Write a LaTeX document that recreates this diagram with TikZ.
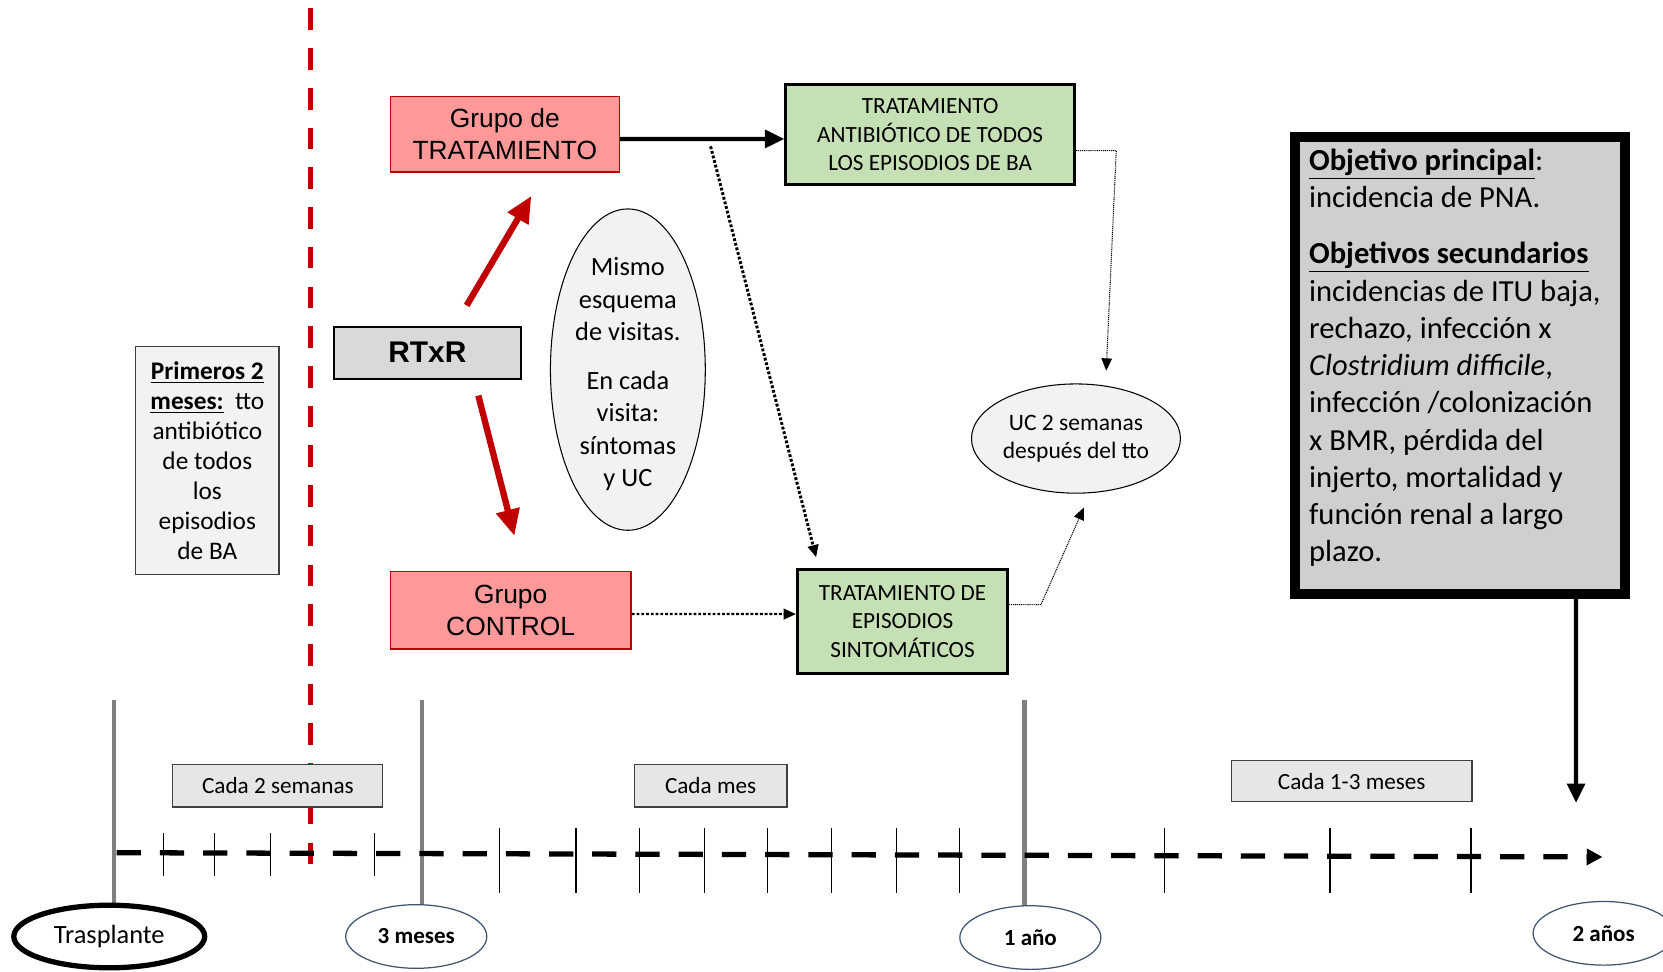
\documentclass[tikz,border=0pt]{standalone}
\usepackage{fontspec}
\setmainfont{Carlito}
\newfontfamily\arialf{Liberation Sans}
\usetikzlibrary{arrows.meta,shapes.geometric,calc,backgrounds}
\newlength\pxu
\setlength\pxu{0.021212cm}
\definecolor{dred}{HTML}{C00000}
\definecolor{pinkc}{HTML}{FF9999}
\definecolor{greenc}{HTML}{C5E0B4}
\definecolor{rtxrc}{HTML}{D9D9D9}
\definecolor{boxgray}{HTML}{E7E6E6}
\definecolor{lightg}{HTML}{F2F2F2}
\definecolor{objgray}{HTML}{D0CECE}
\definecolor{milegray}{HTML}{7F7F7F}
\definecolor{ellblue}{HTML}{41546F}
\definecolor{darkg}{HTML}{404040}
\tikzset{
  rectbox/.style={draw, rectangle, inner sep=0pt, align=center},
  grupo/.style={rectbox, fill=pinkc, draw=dred, line width=0.9pt, font=\arialf\fontsize{15}{18}\selectfont},
  greenbox/.style={rectbox, fill=greenc, draw=black, line width=1.8pt, font=\fontsize{13.2}{16.2}\selectfont},
  labelbox/.style={rectbox, fill=boxgray, draw=darkg, line width=0.7pt, font=\fontsize{13.2}{15}\selectfont},
  timeell/.style={ellipse, draw=ellblue, line width=0.7pt, fill=white, inner sep=0pt, font=\bfseries\fontsize{13.1}{15}\selectfont},
  softell/.style={ellipse, draw=black, line width=0.6pt, fill=lightg, inner sep=0pt},
  dotarrow/.style={dash pattern=on 1.6pt off 1.1pt, line width=1.7pt, -{Triangle[length=7pt,width=6pt]}},
  thindot/.style={dash pattern=on 0.6pt off 0.5pt, line width=0.6pt, -{Triangle[length=7pt,width=6pt]}},
  redarrow/.style={draw=dred, line width=3.6pt, -{Triangle[length=15pt,width=13pt]}},
  blackarrow/.style={draw=black, line width=2.4pt, -{Triangle[length=11pt,width=10pt]}},
  reddash/.style={draw=dred, line width=3pt, dash pattern=on 12.3pt off 10.3pt},
  timeline/.style={draw=black, line width=3pt, dash pattern=on 13.8pt off 10.8pt, -{Triangle[length=9pt,width=9pt]}},
  milestone/.style={draw=milegray, line width=2.4pt},
  tick/.style={draw=black, line width=0.7pt},
}
\newcommand\ulbold[1]{\underline{\textbf{#1}}}
\begin{document}
\begin{tikzpicture}[x=0.021212cm,y=-0.021212cm]
\useasboundingbox (0,0) rectangle (1568,916);

% red dashed separator
\coordinate (rtop) at (293,8);
\coordinate (rbot) at (293,818);
\draw[reddash] (rtop) -- (rbot);

% timeline ticks
\foreach \tx in {154,202,255,353} \draw[tick] (\tx,785) -- (\tx,826);
\foreach \tx in {471,543,603,664,724,784,845,905,1098,1254,1387} \draw[tick] (\tx,781) -- (\tx,842);

% timeline
\coordinate (tl0) at (110,804);
\coordinate (tl1) at (1511,808);
\draw[timeline] (tl0) -- (tl1);

% period labels
\node[labelbox, minimum width=198*\pxu, minimum height=40*\pxu] (cada2) at (262,741) {Cada 2 semanas};
\node[labelbox, minimum width=144*\pxu, minimum height=40*\pxu] (cadames) at (670,741) {Cada mes};
\node[labelbox, minimum width=227*\pxu, minimum height=39*\pxu] (cada13) at (1274.5,736.5) {Cada 1-3 meses};

% milestone ellipses
\node[timeell, draw=black, line width=3pt, font=\fontsize{15}{18}\selectfont, minimum width=180*\pxu, minimum height=59*\pxu] (trasp) at (103,883) {Trasplante};
\node[timeell, minimum width=133*\pxu, minimum height=60*\pxu] (m3) at (392.5,883) {3 meses};
\node[timeell, minimum width=133*\pxu, minimum height=60*\pxu] (m12) at (971.5,884) {1 año};
\node[timeell, minimum width=133*\pxu, minimum height=60*\pxu] (m24) at (1512,880) {2 años};

% milestone lines
\coordinate (g0) at (107.5,660);
\coordinate (g1) at (398,660);
\coordinate (g2) at (966,660);
\begin{pgfonlayer}{background}
\draw[milestone] (g0) -- (g0 |- trasp.center);
\draw[milestone] (g1) -- (g1 |- m3.center);
\draw[milestone] (g2) -- (g2 |- m12.center);
\end{pgfonlayer}

% left box
\node[rectbox, fill=lightg, draw=darkg, line width=0.7pt, minimum width=135*\pxu, minimum height=215*\pxu, font=\fontsize{14.4}{17.1}\selectfont] (prim) at (195.5,434.5)
{\ulbold{Primeros 2}\\\ulbold{meses:}\ \ tto\\antibiótico\\de todos\\los\\episodios\\de BA};

% randomisation
\node[rectbox, fill=rtxrc, draw=black, line width=1.2pt, minimum width=176*\pxu, minimum height=49*\pxu, font=\arialf\bfseries\fontsize{17}{20}\selectfont] (rtxr) at (403,332.5) {RTxR};

% groups
\node[grupo, minimum width=216*\pxu, minimum height=71*\pxu] (gtrat) at (476,126.5) {Grupo de\\TRATAMIENTO};
\node[grupo, minimum width=227*\pxu, minimum height=73*\pxu] (gctrl) at (481.5,575.5) {Grupo\\CONTROL};

% treatments
\node[greenbox, minimum width=272*\pxu, minimum height=94*\pxu] (gtop) at (877,127) {TRATAMIENTO\\ANTIBIÓTICO DE TODOS\\LOS EPISODIOS DE BA};
\node[greenbox, minimum width=198*\pxu, minimum height=98*\pxu] (gbot) at (851,586) {TRATAMIENTO DE\\EPISODIOS\\SINTOMÁTICOS};

% ellipses
\node[softell, minimum width=146*\pxu, minimum height=303*\pxu] (mismo) at (592,348.5) {};
\node[align=center, inner sep=0pt, font=\fontsize{15}{18.5}\selectfont] (mismotxt) at (592,353) {Mismo\\esquema\\de visitas.\\[9pt]En cada\\visita:\\síntomas\\y UC};
\node[softell, minimum width=197*\pxu, minimum height=103*\pxu, align=center, font=\fontsize{13.4}{16.2}\selectfont] (uc) at (1014.5,413.5) {UC 2 semanas\\después del tto};

% objectives box
\node[rectbox, fill=objgray, draw=black, line width=6pt, minimum width=311*\pxu, minimum height=431*\pxu] (obj) at (1376.5,344.5) {};
\node[anchor=north west, inner sep=0pt, align=left, font=\fontsize{17.4}{21.2}\selectfont] (objtxt) at (1234,140)
{\ulbold{Objetivo principal}:\\incidencia de PNA.\\[10.8pt]\ulbold{Objetivos secundarios}\\incidencias de ITU baja,\\rechazo, infección x\\\textit{Clostridium difficile},\\infección /colonización\\x BMR, pérdida del\\injerto, mortalidad y\\función renal a largo\\plazo.};
\coordinate (objend) at (1486,757);
\draw[blackarrow] ($(obj.south)+(109.5,0)$) -- (objend);

% connectors
\draw[redarrow] ($(rtxr.north)+(37,-19)$) -- ($(gtrat.south)+(25,22)$);
\draw[redarrow] ($(rtxr.south)+(48,15)$) -- ($(gctrl.north)+(3.5,-33)$);
\draw[blackarrow] ($(gtrat.east)+(0,4.5)$) -- ($(gtop.west)+(0,4)$);
\coordinate (dsplit) at (670,138);
\draw[dotarrow] (dsplit) -- ($(gbot.north west)+(19,-10)$);
\draw[dotarrow, line width=1.3pt] ($(gctrl.east)+(0,3.5)$) -- ($(gbot.west)+(0,-7)$);
\draw[thindot] ($(gtop.east)+(0,15)$) -- ++(38,0) -- ($(uc.north)+(28.5,-12)$);
\draw[thindot] ($(gbot.east)+(0,-16)$) -- ++(30,0) -- ($(uc.south)+(7.5,13)$);
\end{tikzpicture}
\end{document}
